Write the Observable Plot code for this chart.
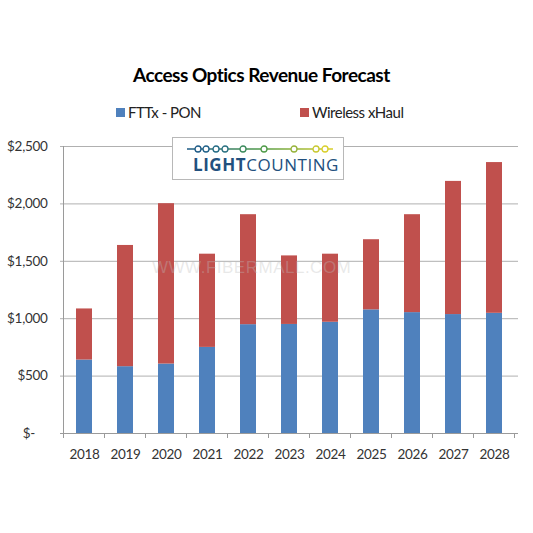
<!DOCTYPE html>
<html>
<head>
<meta charset="utf-8">
<script src="https://cdn.jsdelivr.net/npm/d3@7"></script>
<script src="https://cdn.jsdelivr.net/npm/@observablehq/plot@0.6"></script>
<style>
  html, body { margin: 0; padding: 0; background: #fff; }
  body { width: 533px; height: 533px; position: relative; overflow: hidden;
         font-family: Lato, "Liberation Sans", sans-serif; }
  #title { position: absolute; left: 133px; top: 63px; white-space: nowrap;
           font-weight: bold; font-size: 19px; letter-spacing: -0.5px; color: #000; }
  .leg { position: absolute; top: 103px; font-size: 15px; letter-spacing: -0.5px; color: #222; display: flex; align-items: center; white-space: nowrap; }
  .sw { width: 9px; height: 9px; margin-right: 3px; display: inline-block; }
  #logo { position: absolute; left: 172px; top: 137px; width: 172px; height: 43px;
          border: 1px solid #b8b8b8; background: #fff; box-sizing: border-box; }
  #logo .txt { position: absolute; left: 20px; top: 18px; font-family: "Open Sans", "Liberation Sans", sans-serif;
               font-size: 17px; color: #22507e; letter-spacing: 0.55px; line-height: 1; white-space: nowrap; }
  #wm { position: absolute; left: 152px; top: 258px; font-family: "Liberation Sans", sans-serif; font-size: 17px;
        color: rgba(190,190,190,0.35); letter-spacing: 0.5px; }
  #chart { position: absolute; left: 0; top: 130px; }
  #chart svg text { letter-spacing: -0.3px; }
</style>
</head>
<body>
<div id="title">Access Optics Revenue Forecast</div>
<div class="leg" style="left:116px"><span class="sw" style="background:#4f81bd"></span>FTTx - PON</div>
<div class="leg" style="left:300px"><span class="sw" style="background:#c0504d"></span>Wireless xHaul</div>
<div id="chart"></div>
<div id="logo">
  <svg width="172" height="20" style="position:absolute;left:0;top:4px">
    <defs>
      <linearGradient id="lg" gradientUnits="userSpaceOnUse" x1="14" y1="0" x2="160" y2="0">
        <stop offset="0" stop-color="#1d5a86"/>
        <stop offset="0.5" stop-color="#4e9a48"/>
        <stop offset="1" stop-color="#d9cf2a"/>
      </linearGradient>
    </defs>
    <line x1="14" x2="160" y1="7" y2="7" stroke="url(#lg)" stroke-width="1.3"/>
    <g fill="#fff" stroke-width="1.3">
      <circle cx="25" cy="7" r="3" stroke="#1d5a86"/>
      <circle cx="33" cy="7" r="3" stroke="#1f6088"/>
      <circle cx="43" cy="7" r="3" stroke="#236a84"/>
      <circle cx="52" cy="7" r="3" stroke="#287080"/>
      <circle cx="70" cy="7" r="3" stroke="#3b8a5c"/>
      <circle cx="91" cy="7" r="3" stroke="#4e9a48"/>
      <circle cx="121" cy="7" r="3" stroke="#96b23a"/>
      <circle cx="143" cy="7" r="3" stroke="#c8c830"/>
      <circle cx="152" cy="7" r="3" stroke="#d9cf2a"/>
    </g>
  </svg>
  <div class="txt"><b>LIGHT</b>COUNTING</div>
</div>
<div id="wm">WWW.FIBERMALL.COM</div>
<script>
const years = ["2018","2019","2020","2021","2022","2023","2024","2025","2026","2027","2028"];
const seriesNames = ["FTTx - PON", "Wireless xHaul"];
const fttxPon = [640, 582, 605, 750, 948, 950, 969, 1077, 1053, 1036, 1047];
const wirelessXhaul = [445, 1056, 1397, 812, 958, 597, 593, 611, 853, 1160, 1313];
const yTicks = [0, 500, 1000, 1500, 2000, 2500];
const colors = ["#4f81bd", "#c0504d"];

const data = [];
years.forEach((y, i) => {
  data.push({year: y, series: seriesNames[0], value: fttxPon[i]});
  data.push({year: y, series: seriesNames[1], value: wirelessXhaul[i]});
});

const fmt = d => d === 0 ? "$-\u00a0\u00a0\u00a0\u00a0" : "$" + d3.format(",")(d);

const chart = Plot.plot({
  width: 533,
  height: 350,
  marginTop: 16,
  marginBottom: 47,
  marginLeft: 60,
  marginRight: 15,
  style: {fontFamily: "Lato, 'Liberation Sans', sans-serif", fontSize: "13px", color: "#333", background: "transparent"},
  x: {domain: years, paddingInner: 0.615, paddingOuter: 0.3075, label: null},
  y: {domain: [0, 2500], label: null},
  color: {domain: seriesNames, range: colors},
  marks: [
    Plot.gridY(yTicks.filter(d => d > 0), {stroke: "#b0b0b0", strokeOpacity: 1, strokeWidth: 1}),
    Plot.barY(data, {x: "year", y: "value", fill: "series", order: seriesNames}),
    Plot.ruleY([0], {stroke: "#9a9a9a"}),
    Plot.axisY({ticks: yTicks, tickFormat: fmt, tickSize: 0, tickPadding: 13, fontSize: 13.5, fill: "#333"}),
    Plot.axisX({tickSize: 0, tickPadding: 16, fontSize: 13.5, fill: "#333"})
  ]
});
document.getElementById("chart").appendChild(chart);

// left axis line and category separator ticks, placed from the plot's own scales
const xs = chart.scale("x");
const ys = chart.scale("y");
const svg = d3.select(chart);
const gap = (xs.step - xs.bandwidth) / 2;
const bounds = years.map(y => xs.apply(y) - gap).concat([xs.apply(years[years.length - 1]) + xs.bandwidth + gap]);
const g = svg.append("g").attr("stroke", "#9a9a9a");
g.append("line").attr("x1", bounds[0]).attr("x2", bounds[0]).attr("y1", ys.apply(2500)).attr("y2", ys.apply(0));
g.selectAll("line.t").data(bounds).join("line").attr("class", "t")
  .attr("x1", d => d).attr("x2", d => d)
  .attr("y1", ys.apply(0)).attr("y2", ys.apply(0) + 5);
</script>
</body>
</html>
